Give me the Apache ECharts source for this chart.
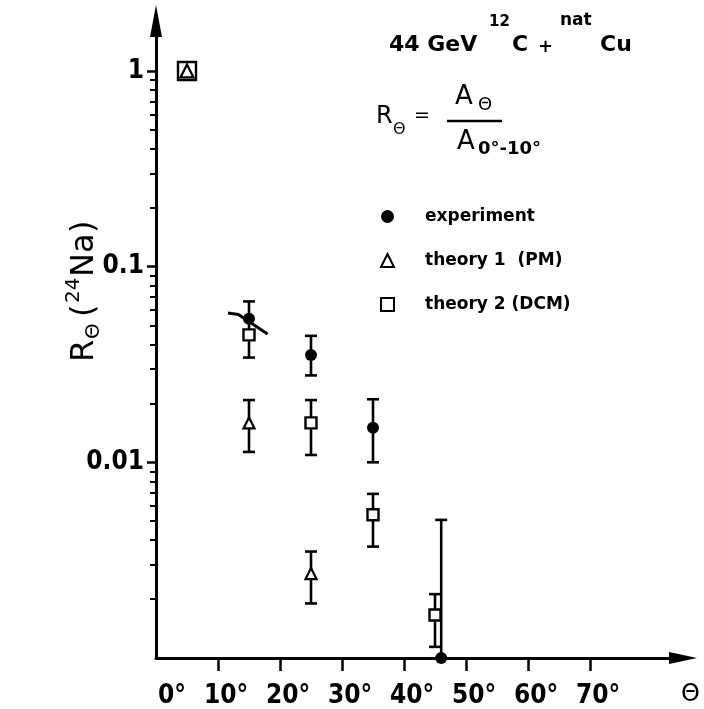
<!DOCTYPE html>
<html><head><meta charset="utf-8">
<script src="https://cdn.jsdelivr.net/npm/echarts@6/dist/echarts.min.js"></script>
<style>html,body{margin:0;padding:0;background:#fff}#c{width:704px;height:709px}</style>
</head><body><div id="c"></div>
<script>
// ---- tick values / labels ----
const xTicks = [10, 20, 30, 40, 50, 60, 70];
const xLabels = [0, 10, 20, 30, 40, 50, 60, 70];
const yMajor = [1, 0.1, 0.01];
const yMinor = [0.002, 0.003, 0.004, 0.005, 0.006, 0.007, 0.008, 0.009,
                0.02, 0.03, 0.04, 0.05, 0.06, 0.07, 0.08, 0.09,
                0.2, 0.3, 0.4, 0.5, 0.6, 0.7, 0.8, 0.9];

// ---- series values: [theta, R] and error bars [theta, low, high] ----
const experiment    = [[15, 0.0541], [25, 0.0354], [35, 0.0150], [46, 0.001]];
const experimentErr = [[15, 0.0448, 0.0664], [25, 0.0278, 0.0443], [35, 0.0100, 0.0210], [46, 0.001, 0.00508]];
const theory1       = [[5, 1], [15, 0.0159], [25, 0.0027]];
const theory1Err    = [[15, 0.0113, 0.0208], [25, 0.0019, 0.0035]];
const theory2       = [[5, 1], [15, 0.0448], [25, 0.0159], [35, 0.0054], [45, 0.00166]];
const theory2Err    = [[15, 0.0343, 0.0448], [25, 0.0109, 0.0208], [35, 0.00371, 0.0069], [45, 0.00114, 0.00212]];
const curve15       = [[11.6, 0.058], [13.3, 0.057], [17.2, 0.047], [18, 0.0453]];

const NARROW = "'Liberation Sans Narrow', 'DejaVu Sans Condensed', 'Liberation Sans', sans-serif";
const FONT = "'DejaVu Sans', sans-serif";

function errRender(params, api) {
  const x = api.value(0);
  const lo = api.coord([x, api.value(1)]);
  const hi = api.coord([x, api.value(2)]);
  const w = 6;
  const style = { stroke: '#000', lineWidth: 2.6 };
  return {
    type: 'group',
    children: [
      { type: 'line', shape: { x1: lo[0], y1: lo[1], x2: hi[0], y2: hi[1] }, style },
      { type: 'line', shape: { x1: hi[0] - w, y1: hi[1], x2: hi[0] + w, y2: hi[1] }, style },
      { type: 'line', shape: { x1: lo[0] - w, y1: lo[1], x2: lo[0] + w, y2: lo[1] }, style }
    ]
  };
}

function txt(text, x, y, size, bold) {
  return {
    type: 'text', x: x, y: y,
    style: { text: text, fontSize: size, fontFamily: FONT, fill: '#000', verticalAlign: 'middle',
             fontWeight: bold ? 'bold' : 'normal' }
  };
}

const chart = echarts.init(document.getElementById('c'), null, { renderer: 'canvas' });
chart.setOption({
  animation: false,
  backgroundColor: '#fff',
  grid: { left: 156, right: 21, top: 21, bottom: 51, containLabel: false },
  legend: {
    orient: 'vertical', left: 375, top: 203, itemWidth: 13, itemHeight: 13, itemGap: 27,
    selectedMode: false,
    data: ['experiment', 'theory 1  (PM)', 'theory 2 (DCM)'],
    textStyle: { fontFamily: FONT, fontWeight: 'bold', fontSize: 17, color: '#000', padding: [0, 0, 0, 26] }
  },
  xAxis: {
    type: 'value', min: 0, max: 85, interval: 10,
    axisLine: { onZero: false, symbol: ['none', 'triangle'], symbolSize: [12, 28], lineStyle: { color: '#000', width: 3 } },
    axisTick: { show: true, customValues: xTicks, length: 13, lineStyle: { color: '#000', width: 2.5 } },
    axisLabel: {
      customValues: xLabels, margin: 25, color: '#000', fontFamily: NARROW, fontSize: 26, fontWeight: 'bold',
      formatter: function (v) { return v === 0 ? '{z|0°}' : '{n|' + v + '°}'; },
      rich: {
        z: { fontFamily: NARROW, fontSize: 26, fontWeight: 'bold', color: '#000', padding: [0, 0, 0, 32] },
        n: { fontFamily: NARROW, fontSize: 26, fontWeight: 'bold', color: '#000', padding: [0, 0, 0, 16] }
      }
    },
    splitLine: { show: false }
  },
  yAxis: [{
    type: 'log', logBase: 10, min: 0.001, max: 1.8, position: 'left',
    axisLine: { onZero: false, symbol: ['none', 'triangle'], symbolSize: [12, 32], lineStyle: { color: '#000', width: 3 } },
    axisTick: { show: true, customValues: yMajor, length: 9, lineStyle: { color: '#000', width: 2.5 } },
    axisLabel: {
      customValues: yMajor, margin: 12, color: '#000', fontFamily: NARROW, fontSize: 26, fontWeight: 'bold',
      formatter: function (v) { return String(+(+v).toPrecision(3)); }
    },
    splitLine: { show: false }, minorTick: { show: false }
  }, {
    type: 'log', logBase: 10, min: 0.001, max: 1.8, position: 'left', offset: 0,
    axisLine: { show: false },
    axisTick: { show: true, customValues: yMinor, length: 6, lineStyle: { color: '#000', width: 2 } },
    axisLabel: { show: false },
    splitLine: { show: false }
  }],
  series: [
    { name: 'expErr', type: 'custom', renderItem: errRender, data: experimentErr,
      encode: { x: 0, y: [1, 2] }, z: 2, clip: false, silent: true },
    { name: 't1Err', type: 'custom', renderItem: errRender, data: theory1Err,
      encode: { x: 0, y: [1, 2] }, z: 2, clip: false, silent: true },
    { name: 't2Err', type: 'custom', renderItem: errRender, data: theory2Err,
      encode: { x: 0, y: [1, 2] }, z: 2, clip: false, silent: true },
    { name: 'curve', type: 'line', data: curve15, symbol: 'none', showSymbol: false,
      lineStyle: { color: '#000', width: 3 }, z: 3, clip: false, silent: true },
    { name: 'experiment', type: 'scatter', data: experiment, symbol: 'circle', symbolSize: 12,
      itemStyle: { color: '#000', opacity: 1 }, z: 4, clip: false },
    { name: 'theory 2 (DCM)', type: 'scatter', data: theory2, symbol: 'rect',
      symbolSize: function (v) { return v[0] < 10 ? 18 : 11; },
      itemStyle: { color: '#fff', borderColor: '#000', borderWidth: 2.4, opacity: 1 }, z: 4, clip: false },
    { name: 'theory 1  (PM)', type: 'scatter', data: theory1, symbol: 'triangle',
      symbolSize: function (v) { return v[0] < 10 ? 13 : 11; },
      itemStyle: { color: '#fff', borderColor: '#000', borderWidth: 2.2, opacity: 1 }, z: 5, clip: false }
  ],
  graphic: [
    // title
    txt('44 GeV', 389, 45, 22, true),
    txt('12', 489, 22, 15, true),
    txt('C', 512, 45, 22, true),
    txt('+', 538, 47, 18, true),
    txt('nat', 560, 21, 17, true),
    txt('Cu', 600, 45, 22, true),
    // formula
    txt('R', 376, 117, 24),
    txt('Θ', 393, 130, 16),
    txt('=', 414, 116, 19),
    { type: 'line', shape: { x1: 447, y1: 121, x2: 502, y2: 121 }, style: { stroke: '#000', lineWidth: 2.5 } },
    txt('A', 455, 97, 26),
    txt('Θ', 478, 105, 18),
    txt('A', 457, 142, 26),
    txt('0°-10°', 478, 149, 18, true),
    // x axis symbol
    txt('Θ', 681, 695, 24),
    // y axis title (rotated)
    { type: 'group', x: 85, y: 362, rotation: Math.PI / 2, children: [
      txt('R', 0, 0, 32),
      txt('Θ', 23, 9, 20),
      txt('(', 45, 0, 32),
      txt('24', 59, -11, 20),
      txt('Na', 85, 0, 32),
      txt(')', 129, 0, 32)
    ] }
  ]
});
</script></body></html>
